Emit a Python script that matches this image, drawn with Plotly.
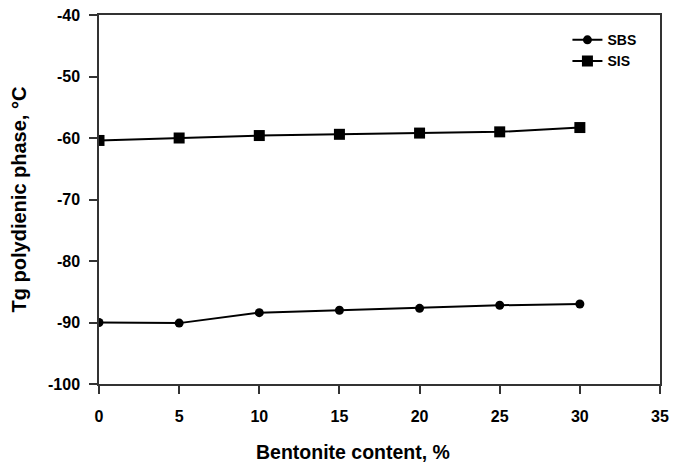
import plotly.graph_objects as go

# Bentonite content (%) and glass transition temperature of the polydiene phase (°C)
bentonite = [0, 5, 10, 15, 20, 25, 30]
tg_sbs = [-90.0, -90.1, -88.4, -88.0, -87.7, -87.2, -87.0]
tg_sis = [-60.4, -60.0, -59.6, -59.4, -59.2, -59.0, -58.3]

x_ticks = [0, 5, 10, 15, 20, 25, 30, 35]
x_tick_labels = [f"<b>{v}</b>" for v in x_ticks]
y_ticks = [-100, -90, -80, -70, -60, -50, -40]
y_tick_labels = [f"<b>-{abs(v)}</b>" for v in y_ticks]  # plain hyphen minus

FONT = "Liberation Sans, Arial, sans-serif"

fig = go.Figure()
fig.add_trace(go.Scatter(
    x=bentonite, y=tg_sbs, name="<b>SBS</b>", mode="lines+markers",
    line=dict(color="black", width=2),
    marker=dict(symbol="circle", size=9, color="black"),
))
fig.add_trace(go.Scatter(
    x=bentonite, y=tg_sis, name="<b>SIS</b>", mode="lines+markers",
    line=dict(color="black", width=2),
    marker=dict(symbol="square", size=11, color="black"),
))

axis_common = dict(
    showline=True, linecolor="#333333", linewidth=1.5, mirror=True,
    ticks="outside", ticklen=8, tickcolor="#333333", tickwidth=1.5,
    showgrid=False, zeroline=False, automargin=False,
    tickfont=dict(family=FONT, size=16, color="black"),
)

fig.update_layout(
    width=678, height=463,
    margin=dict(l=99, r=18, t=15, b=79),
    paper_bgcolor="white", plot_bgcolor="white",
    showlegend=True,
    legend=dict(
        x=0.835, y=0.975, xanchor="left", yanchor="top",
        bgcolor="rgba(0,0,0,0)",
        font=dict(family=FONT, size=14, color="black"),
        tracegroupgap=0, itemwidth=30,
    ),
    xaxis=dict(
        range=[0, 35], tickvals=x_ticks, ticktext=x_tick_labels,
        ticklabelstandoff=9,
        **axis_common,
    ),
    yaxis=dict(
        range=[-100, -40], tickvals=y_ticks, ticktext=y_tick_labels,
        ticklabelstandoff=6,
        title=dict(text="<b>Tg polydienic phase, °C</b>", standoff=16,
                   font=dict(family=FONT, size=20, color="black")),
        **axis_common,
    ),
    annotations=[dict(
        text="<b>Bentonite content, %</b>",
        xref="paper", yref="paper", x=0.453, y=-0.183,
        xanchor="center", yanchor="middle", showarrow=False,
        font=dict(family=FONT, size=19.5, color="black"),
    )],
)

fig.write_html("out.html")
